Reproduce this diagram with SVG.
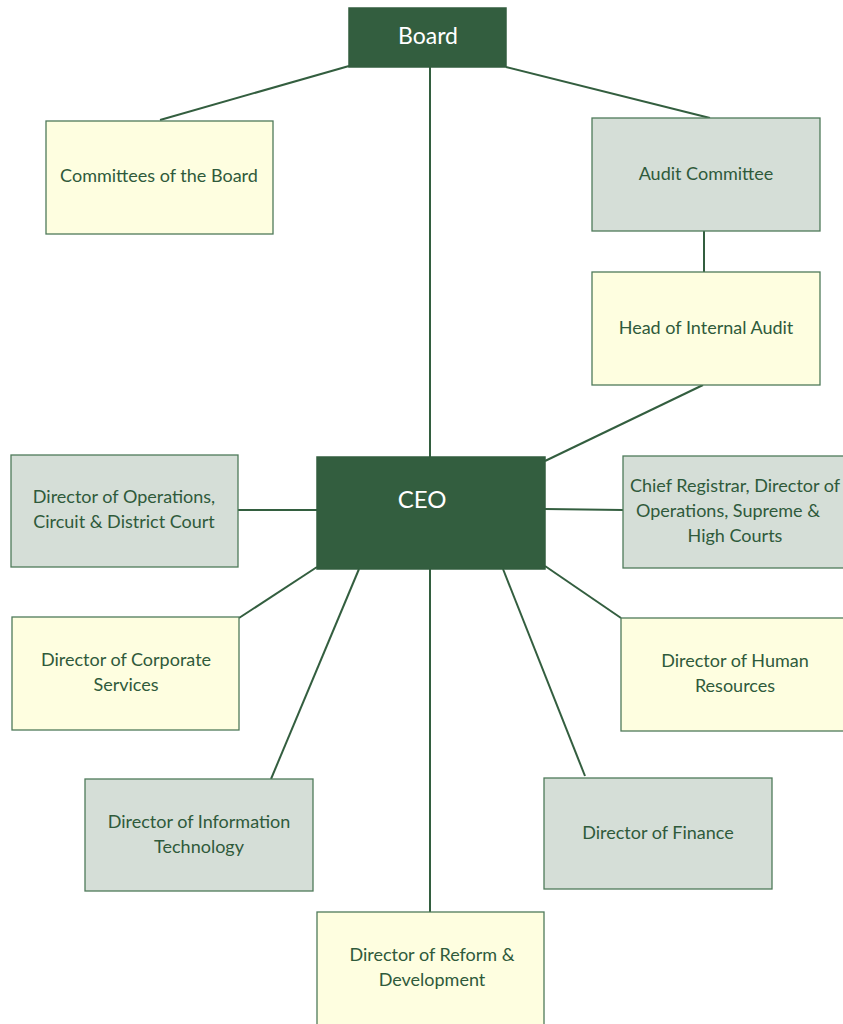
<svg xmlns="http://www.w3.org/2000/svg" width="843" height="1024" viewBox="0 0 843 1024">
<style>
.dark{fill:#335e3f;stroke:#335e3f;stroke-width:1.5}
.yel{fill:#fefee0;stroke:#4f7a5a;stroke-width:1.3}
.gry{fill:#d5ded7;stroke:#4f7a5a;stroke-width:1.3}
.t{font-family:Lato,"Open Sans",sans-serif;font-size:18px;fill:#2f5a3b;text-anchor:middle}
.w{font-family:Lato,"Open Sans",sans-serif;fill:#ffffff;text-anchor:middle}
.c{stroke:#335e3f;stroke-width:2;fill:none}
</style>
<rect width="843" height="1024" fill="#ffffff"/>
<g id="connectors" class="c">
<line x1="349" y1="66" x2="160" y2="120"/>
<line x1="506" y1="67" x2="710" y2="118"/>
<line x1="430" y1="67" x2="430" y2="457"/>
<line x1="704" y1="231" x2="704" y2="272"/>
<line x1="703" y1="385" x2="545" y2="461"/>
<line x1="238" y1="510" x2="317" y2="510"/>
<line x1="545" y1="509" x2="623" y2="510"/>
<line x1="317" y1="567" x2="239" y2="618"/>
<line x1="359" y1="569" x2="271" y2="779"/>
<line x1="430" y1="569" x2="430" y2="912"/>
<line x1="503" y1="569" x2="585" y2="776"/>
<line x1="545" y1="566" x2="621" y2="618"/>
</g>
<g id="board"><rect class="dark" x="349" y="8" width="157" height="59"/><text class="w" x="428" y="44" font-size="23">Board</text></g>
<g id="committees"><rect class="yel" x="46" y="121" width="227" height="113"/><text class="t" x="159" y="182">Committees of the Board</text></g>
<g id="audit"><rect class="gry" x="592" y="118" width="228" height="113"/><text class="t" x="706" y="180">Audit Committee</text></g>
<g id="internal-audit"><rect class="yel" x="592" y="272" width="228" height="113"/><text class="t" x="706" y="334">Head of Internal Audit</text></g>
<g id="ceo"><rect class="dark" x="317" y="457" width="228" height="112"/><text class="w" x="422" y="508" font-size="24">CEO</text></g>
<g id="ops-circuit"><rect class="gry" x="11" y="455" width="227" height="112"/><text class="t" x="124" y="503">Director of Operations,</text><text class="t" x="124" y="528">Circuit &amp; District Court</text></g>
<g id="chief-registrar"><rect class="gry" x="623" y="456" width="224" height="112"/><text class="t" x="735" y="492">Chief Registrar, Director of</text><text class="t" x="728" y="517">Operations, Supreme &amp;</text><text class="t" x="735" y="542">High Courts</text></g>
<g id="corporate"><rect class="yel" x="12" y="617" width="227" height="113"/><text class="t" x="126" y="666">Director of Corporate</text><text class="t" x="126" y="691">Services</text></g>
<g id="hr"><rect class="yel" x="621" y="618" width="226" height="113"/><text class="t" x="735" y="667">Director of Human</text><text class="t" x="735" y="692">Resources</text></g>
<g id="it"><rect class="gry" x="85" y="779" width="228" height="112"/><text class="t" x="199" y="828">Director of Information</text><text class="t" x="199" y="853">Technology</text></g>
<g id="finance"><rect class="gry" x="544" y="778" width="228" height="111"/><text class="t" x="658" y="839">Director of Finance</text></g>
<g id="reform"><rect class="yel" x="317" y="912" width="227" height="116"/><text class="t" x="432" y="961">Director of Reform &amp;</text><text class="t" x="432" y="986">Development</text></g>
</svg>
